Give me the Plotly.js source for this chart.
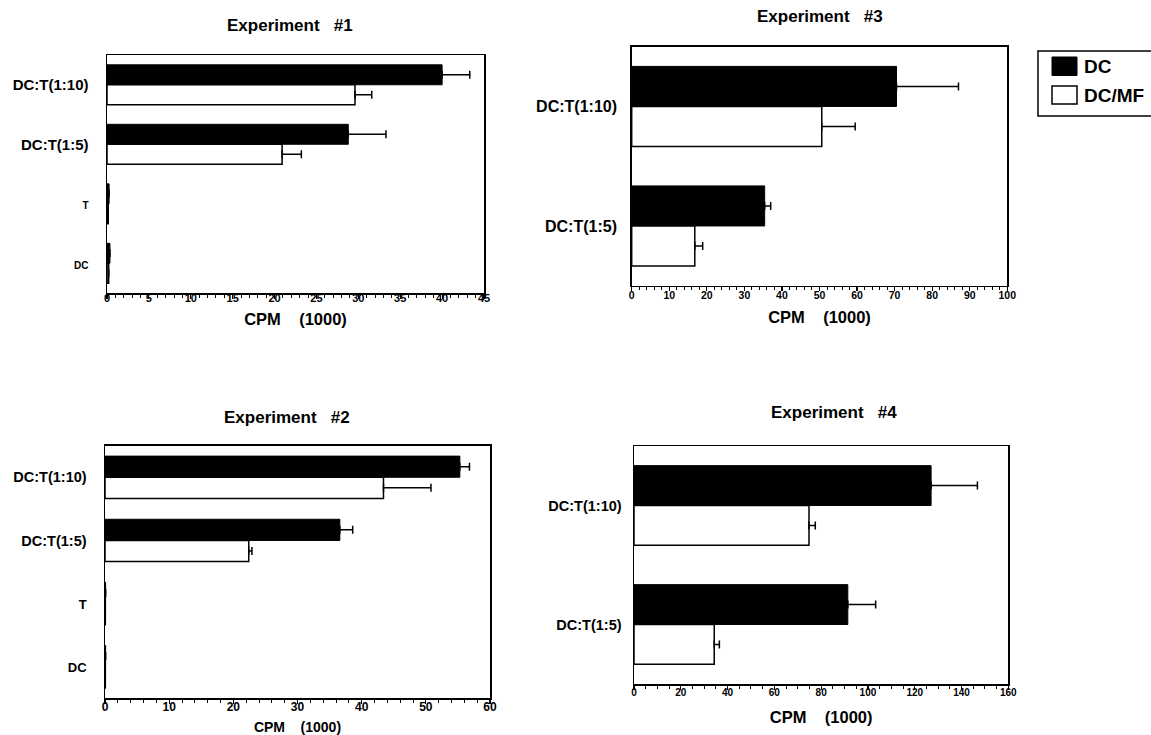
<!DOCTYPE html>
<html><head><meta charset="utf-8">
<script src="https://cdn.plot.ly/plotly-3.0.1.min.js"></script>
<style>html,body{margin:0;padding:0;background:#fff;overflow:hidden}#chart{width:1151px;height:735px}</style>
</head><body><div id="chart"></div>
<script>
// ---------- data ----------
const seriesNames = ['DC', 'DC/MF'];
const catsFull = ['DC:T(1:10)', 'DC:T(1:5)', 'T', 'DC'];
const catsShort = ['DC:T(1:10)', 'DC:T(1:5)'];

// Experiment #1 (CPM x1000)
const exp1DC = [40.0, 28.8, 0.25, 0.35];
const exp1DCerr = [3.3, 4.5, 0, 0];
const exp1MF = [29.6, 20.9, 0.15, 0.2];
const exp1MFerr = [2.0, 2.3, 0, 0];

// Experiment #2
const exp2DC = [55.3, 36.6, 0.1, 0.1];
const exp2DCerr = [1.5, 2.0, 0, 0];
const exp2MF = [43.4, 22.4, 0.05, 0.05];
const exp2MFerr = [7.4, 0.5, 0, 0];

// Experiment #3
const exp3DC = [70.5, 35.4];
const exp3DCerr = [16.5, 1.6];
const exp3MF = [50.6, 16.8];
const exp3MFerr = [8.9, 2.1];

// Experiment #4
const exp4DC = [127, 91.4];
const exp4DCerr = [19.8, 11.9];
const exp4MF = [74.8, 34.3];
const exp4MFerr = [2.7, 2.2];

const titles = ['Experiment\u00a0\u00a0\u00a0#1', 'Experiment\u00a0\u00a0\u00a0#3', 'Experiment\u00a0\u00a0\u00a0#2', 'Experiment\u00a0\u00a0\u00a0#4'];
const xTitle = 'CPM\u00a0\u00a0\u00a0\u00a0(1000)';

// ---------- layout helpers ----------
const W = 1151, H = 735;
const FF = 'Liberation Sans, Arial, Helvetica, sans-serif';
const px = v => v / W;
const py = v => 1 - v / H;
const dx = (a, b) => [px(a), px(b)];
const dy = (top, bottom) => [py(bottom), py(top)];

function barPair(dc, dcErr, mf, mfErr, cats, xa, ya) {
  return [
    {type: 'bar', orientation: 'h', name: seriesNames[0], x: dc, y: cats, xaxis: xa, yaxis: ya,
     marker: {color: '#000', line: {color: '#000', width: 1}},
     error_x: {type: 'data', symmetric: false, array: dcErr, arrayminus: dcErr.map(() => 0), color: '#000', thickness: 1.5, width: 4},
     showlegend: false, hoverinfo: 'x+y'},
    {type: 'bar', orientation: 'h', name: seriesNames[1], x: mf, y: cats, xaxis: xa, yaxis: ya,
     marker: {color: '#fff', line: {color: '#000', width: 1.5}},
     error_x: {type: 'data', symmetric: false, array: mfErr, arrayminus: mfErr.map(() => 0), color: '#000', thickness: 1.5, width: 4},
     showlegend: false, hoverinfo: 'x+y'}
  ];
}

const data = [
  ...barPair(exp1DC, exp1DCerr, exp1MF, exp1MFerr, catsFull, 'x', 'y'),
  ...barPair(exp3DC, exp3DCerr, exp3MF, exp3MFerr, catsShort, 'x2', 'y2'),
  ...barPair(exp2DC, exp2DCerr, exp2MF, exp2MFerr, catsFull, 'x3', 'y3'),
  ...barPair(exp4DC, exp4DCerr, exp4MF, exp4MFerr, catsShort, 'x4', 'y4')
];

function xAxis(domain, anchor, max, dtick, minorDtick, tickSize, lblShift, titleSize, standoff) {
  return {
    domain: domain, anchor: anchor, range: [0, max], tickmode: 'linear', tick0: 0, dtick: dtick,
    showgrid: false, zeroline: false, showline: true, mirror: true, linecolor: '#000', linewidth: 1.5,
    ticks: 'outside', ticklen: 4, tickwidth: 1.2, tickcolor: '#000', ticklabelstandoff: lblShift,
    minor: {dtick: minorDtick, tick0: 0, ticks: 'outside', ticklen: 3, tickwidth: 1, tickcolor: '#000', showgrid: false},
    tickfont: {family: FF, size: tickSize, color: '#000', weight: 'bold'},
    title: {text: xTitle, font: {family: FF, size: titleSize, color: '#000', weight: 'bold'}, standoff: standoff},
    fixedrange: true
  };
}
function yAxis(domain, anchor, cats, labels, n, tickSize, standoff) {
  return {
    domain: domain, anchor: anchor, type: 'category', range: [n - 0.5, -0.5],
    tickmode: 'array', tickvals: cats, ticktext: labels,
    showgrid: false, zeroline: false, showline: true, mirror: true, linecolor: '#000', linewidth: 1.5,
    ticks: '', ticklabelstandoff: standoff,
    tickfont: {family: FF, size: tickSize, color: '#000', weight: 'bold'},
    fixedrange: true
  };
}

const small1 = s => '<span style="font-size:10px">' + s + '</span>';
const small2 = s => '<span style="font-size:13px">' + s + '</span>';

const labels1 = [catsFull[0], catsFull[1], small1(catsFull[2]), small1(catsFull[3])];
const labels2 = [catsFull[0], catsFull[1], small2(catsFull[2]), small2(catsFull[3])];

const titleAnn = (text, x, y, size) => ({
  text: text, xref: 'paper', yref: 'paper', x: px(x), y: py(y), xanchor: 'center', yanchor: 'middle',
  showarrow: false, font: {family: FF, size: size, color: '#000', weight: 'bold'}
});
const legendAnn = (text, y) => ({
  text: text, xref: 'paper', yref: 'paper', x: px(1082), y: py(y), xanchor: 'left', yanchor: 'middle',
  showarrow: false, font: {family: FF, size: 19, color: '#000', weight: 'bold'}
});

const layout = {
  width: W, height: H, margin: {l: 0, r: 0, t: 0, b: 0},
  paper_bgcolor: '#fff', plot_bgcolor: '#fff',
  barmode: 'group', bargap: 0.33, bargroupgap: 0,
  showlegend: false,
  xaxis: xAxis(dx(107, 484), 'y', 45, 5, 1, 11, -10, 16.5, 10),
  yaxis: yAxis(dy(55, 293), 'x', catsFull, labels1, 4, 15, 14),
  xaxis2: xAxis(dx(631.7, 1007.3), 'y2', 100, 10, 2, 10.5, -5, 16.5, 11),
  yaxis2: yAxis(dy(46.7, 285.7), 'x2', catsShort, catsShort, 2, 16, 10),
  xaxis3: xAxis(dx(105, 490), 'y3', 60, 10, 2, 12, -7, 14, 16),
  yaxis3: yAxis(dy(445.7, 698.3), 'x3', catsFull, labels2, 4, 14.5, 14),
  xaxis4: xAxis(dx(634, 1008.3), 'y4', 160, 20, 5, 10, -6, 16.5, 15),
  yaxis4: yAxis(dy(446, 684), 'x4', catsShort, catsShort, 2, 14.5, 8),
  annotations: [
    titleAnn(titles[0], 290, 25, 17),
    titleAnn(titles[1], 819.5, 17, 17),
    titleAnn(titles[2], 287, 417, 17),
    titleAnn(titles[3], 834, 412, 17),
    legendAnn(seriesNames[0], 66.5),
    legendAnn(seriesNames[1], 95.5)
  ],
  shapes: [
    {type: 'rect', xref: 'paper', yref: 'paper', x0: px(1038), x1: px(1170), y0: py(116), y1: py(51),
     line: {color: '#000', width: 1.5}, fillcolor: 'rgba(0,0,0,0)'},
    {type: 'rect', xref: 'paper', yref: 'paper', x0: px(1052), x1: px(1077), y0: py(75.5), y1: py(57),
     line: {color: '#000', width: 1}, fillcolor: '#000'},
    {type: 'rect', xref: 'paper', yref: 'paper', x0: px(1052), x1: px(1077), y0: py(104), y1: py(86),
     line: {color: '#000', width: 1.5}, fillcolor: '#fff'}
  ]
};

Plotly.newPlot('chart', data, layout, {displayModeBar: false, staticPlot: true});
</script>
</body></html>
